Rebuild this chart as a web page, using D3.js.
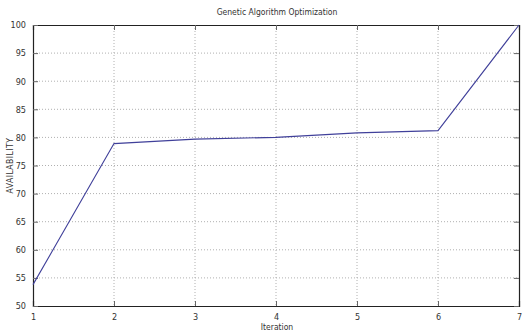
<!DOCTYPE html>
<html><head><meta charset="utf-8">
<script src="https://cdn.jsdelivr.net/npm/d3@7"></script>
<style>
body{margin:0;background:#fff;}
text{font-family:"Liberation Sans Narrow","DejaVu Sans Condensed","Liberation Sans",sans-serif;fill:#333;}
</style></head><body>
<svg id="c" width="522" height="335"></svg>
<script>
const iterations = [1, 2, 3, 4, 5, 6, 7];
const availability = [53.8, 78.9, 79.7, 80.0, 80.8, 81.2, 100];
const xTicks = [1, 2, 3, 4, 5, 6, 7];
const yTicks = [50, 55, 60, 65, 70, 75, 80, 85, 90, 95, 100];
const title = "Genetic Algorithm Optimization";
const xLabel = "Iteration";
const yLabel = "AVAILABILITY";

const W = 522, H = 335;
const m = {l: 33, r: 3, t: 25, b: 29};
const svg = d3.select("#c");
const x = d3.scaleLinear().domain([1, 7]).range([m.l, W - m.r]);
const y = d3.scaleLinear().domain([50, 100]).range([H - m.b, m.t]);

// grid
const g = svg.append("g");
g.selectAll(".vg").data(xTicks.slice(1, -1)).enter().append("line")
  .attr("x1", d => x(d)).attr("x2", d => x(d)).attr("y1", m.t).attr("y2", H - m.b)
  .attr("stroke", "#b0b0b0").attr("stroke-width", 1).attr("stroke-dasharray", "1,2");
g.selectAll(".hg").data(yTicks.slice(1, -1)).enter().append("line")
  .attr("x1", m.l).attr("x2", W - m.r).attr("y1", d => y(d)).attr("y2", d => y(d))
  .attr("stroke", "#b0b0b0").attr("stroke-width", 1).attr("stroke-dasharray", "1,2");

// axes (inward ticks)
const xb = svg.append("g").attr("transform", `translate(0,${H - m.b})`)
  .call(d3.axisBottom(x).tickValues(xTicks).tickSize(-5).tickPadding(8).tickFormat(d3.format("d")));
const xt = svg.append("g").attr("transform", `translate(0,${m.t})`)
  .call(d3.axisTop(x).tickValues(xTicks).tickSize(-5).tickFormat(""));
const yl = svg.append("g").attr("transform", `translate(${m.l},0)`)
  .call(d3.axisLeft(y).tickValues(yTicks).tickSize(-5).tickPadding(7));
const yr = svg.append("g").attr("transform", `translate(${W - m.r},0)`)
  .call(d3.axisRight(y).tickValues(yTicks).tickSize(-5).tickFormat(""));
[xb, xt, yl, yr].forEach(a => {
  a.selectAll("path").attr("stroke", "#222").attr("stroke-width", 1.2);
  a.selectAll("line").attr("stroke", "#666");
  a.selectAll("text").attr("font-size", 9).style("fill", "#333")
    .attr("font-family", '"Liberation Sans Narrow","DejaVu Sans Condensed",sans-serif');
});

// line
svg.append("path").datum(iterations.map((d, i) => [d, availability[i]]))
  .attr("fill", "none").attr("stroke", "#40409a").attr("stroke-width", 1.1)
  .attr("d", d3.line().x(d => x(d[0])).y(d => y(d[1])));

// labels
svg.append("text").attr("x", 277).attr("y", 15).attr("text-anchor", "middle")
  .attr("font-size", 8.5).text(title);
svg.append("text").attr("x", 277).attr("y", 330).attr("text-anchor", "middle")
  .attr("font-size", 8.5).text(xLabel);
svg.append("text").attr("transform", `translate(13,${(m.t + H - m.b) / 2}) rotate(-90)`)
  .attr("text-anchor", "middle").attr("font-size", 8.5).attr("letter-spacing", 0.5).text(yLabel);
</script></body></html>
